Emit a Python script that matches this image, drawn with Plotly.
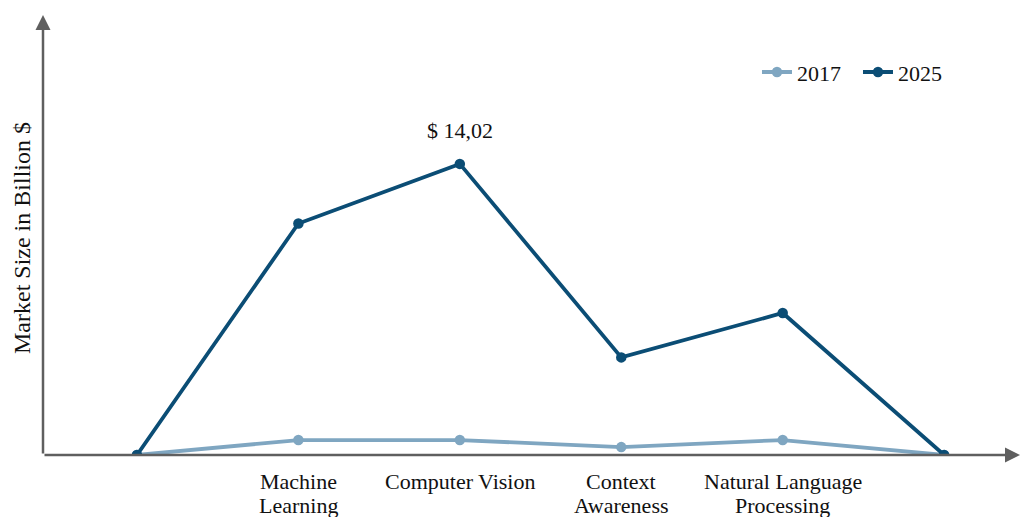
import plotly.graph_objects as go

# Market size per AI technology segment (billion $)
categories = ["", "Machine<br>Learning", "Computer Vision", "Context<br>Awareness",
              "Natural Language<br>Processing", ""]
values_2017 = [0, 0.72, 0.72, 0.38, 0.72, 0]
values_2025 = [0, 11.15, 14.02, 4.7, 6.84, 0]

x_pos = list(range(len(categories)))

c2017 = "#7fa6c1"
c2025 = "#0b4d75"
axis_col = "#5f5f5f"
text_col = "#111111"
font_family = "Liberation Serif, Times New Roman, serif"

fig = go.Figure()
fig.add_trace(go.Scatter(
    x=x_pos, y=values_2017, name="2017", mode="lines+markers",
    line=dict(color=c2017, width=3.8), marker=dict(color=c2017, size=10.5),
))
fig.add_trace(go.Scatter(
    x=x_pos, y=values_2025, name="2025", mode="lines+markers",
    line=dict(color=c2025, width=3.8), marker=dict(color=c2025, size=10.5),
))

# value label over the peak
peak = values_2025.index(max(values_2025))
fig.add_annotation(
    x=x_pos[peak], y=values_2025[peak], text="$ " + f"{values_2025[peak]:.2f}".replace(".", ","),
    showarrow=False, yshift=33, font=dict(size=22, color=text_col, family=font_family),
)

# category labels under the axis, one annotation per text line
for xi, label in zip(x_pos, categories):
    for li, line in enumerate(label.split("<br>")):
        if not line:
            continue
        fig.add_annotation(x=xi, y=0, text=line, showarrow=False, yanchor="middle",
                           yshift=-26 - 24 * li,
                           font=dict(size=22, color=text_col, family=font_family))

# axis lines with arrow heads
fig.add_annotation(xref="paper", yref="paper", x=0, y=1.0, ax=0, ay=440,
                   text="", showarrow=True,
                   arrowhead=2, arrowsize=1.2, arrowwidth=2.5, arrowcolor=axis_col)
fig.add_annotation(xref="paper", yref="paper", x=1.0, y=0, ax=-977, ay=0,
                   text="", showarrow=True,
                   arrowhead=2, arrowsize=1.2, arrowwidth=2.5, arrowcolor=axis_col)

# y-axis title
fig.add_annotation(xref="paper", yref="paper", x=0, y=0.5, xshift=-21, yshift=-3,
                   xanchor="center", yanchor="middle",
                   text="Market Size in Billion $", textangle=-90, showarrow=False,
                   font=dict(size=24, color=text_col, family=font_family))

fig.update_layout(
    width=1022, height=517,
    margin=dict(l=43, r=2, t=15, b=62),
    paper_bgcolor="white", plot_bgcolor="white",
    font=dict(family=font_family, size=22, color=text_col),
    showlegend=True,
    legend=dict(orientation="h", x=0.7308, y=0.870, xanchor="left", yanchor="middle",
                font=dict(size=22), bgcolor="rgba(0,0,0,0)", itemwidth=30,
                entrywidth=56, entrywidthmode="pixels"),
    xaxis=dict(range=[-0.582, 5.47], showgrid=False, zeroline=False, showline=False,
               showticklabels=False, ticks=""),
    yaxis=dict(range=[0, 21.19], showgrid=False, zeroline=False, showline=False,
               showticklabels=False, ticks=""),
)

fig.write_html("out.html")
